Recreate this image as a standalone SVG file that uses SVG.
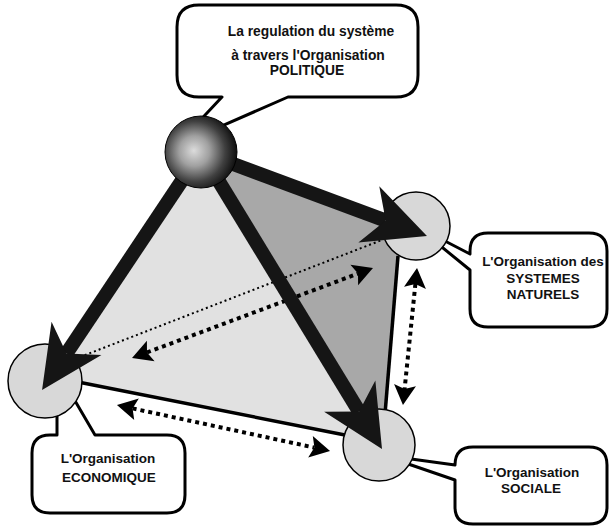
<svg xmlns="http://www.w3.org/2000/svg" width="610" height="526" viewBox="0 0 610 526">
<style>
.txt{font-family:"Liberation Sans",Arial,sans-serif;font-weight:bold;font-size:13.5px;fill:#111;text-anchor:middle}
.callout{fill:#fff;stroke:#000;stroke-width:3;stroke-linejoin:round}
.node{fill:#d8d8d8;stroke:#000;stroke-width:1.5}
.thick{stroke:#151515;stroke-width:14;fill:none;marker-end:url(#big)}
.dash{stroke:#000;stroke-width:4;stroke-dasharray:4 4;fill:none;marker-start:url(#small);marker-end:url(#small)}
.edge{stroke:#000;stroke-width:3.5;fill:none}
</style>
<defs>
<marker id="big" viewBox="-20 -32 66 64" refX="0" refY="0" markerWidth="66" markerHeight="64" markerUnits="userSpaceOnUse" orient="auto">
<path d="M44,0 L-18,-30 L0,0 L-18,30 Z" fill="#151515"/>
</marker>
<marker id="small" viewBox="-6 -12 24 24" refX="0" refY="0" markerWidth="24" markerHeight="24" markerUnits="userSpaceOnUse" orient="auto-start-reverse">
<path d="M16,0 L-4,-11 L0,0 L-4,11 Z" fill="#000"/>
</marker>
<radialGradient id="sph" cx="0.42" cy="0.5" r="0.6" fx="0.4" fy="0.48">
<stop offset="0" stop-color="#dcdcdc"/>
<stop offset="0.35" stop-color="#a0a0a0"/>
<stop offset="0.7" stop-color="#404040"/>
<stop offset="1" stop-color="#080808"/>
</radialGradient>
</defs>

<g id="faces">
<polygon points="201,152 60,370 78,382 350,436 372,430" fill="#e1e1e1"/>
<polygon points="201,152 416,226 398,258 385,412 370,425" fill="#a8a8a8"/>
<line class="edge" x1="78" y1="382" x2="350" y2="436"/>
<line class="edge" x1="398" y1="256" x2="385" y2="414"/>
</g>

<g id="connectors-dotted">
<line x1="80" y1="357" x2="382" y2="240" stroke="#000" stroke-width="2" stroke-dasharray="2 3"/>
<line class="dash" x1="147" y1="352.4" x2="358" y2="273.6"/>
<line class="dash" x1="415.4" y1="283.9" x2="404.6" y2="389.1"/>
<line class="dash" x1="132.6" y1="408.4" x2="314.4" y2="447.6"/>
</g>

<g id="node-economique">
<path class="callout" d="M50,435 H57 L57,370 L95,435 H167 Q185,435 185,453 V495 Q185,513 167,513 H50 Q32,513 32,495 V453 Q32,435 50,435 Z"/>
<circle class="node" cx="45" cy="381" r="37"/>
<text class="txt" x="108" y="463">L'Organisation</text>
<text class="txt" x="109" y="482">ECONOMIQUE</text>
</g>

<g id="node-sociale">
<path class="callout" d="M473,447 H589 Q607,447 607,465 V507 Q607,524 589,524 H473 Q455,524 455,507 V480 L382,455 L455,465 Q455,447 473,447 Z"/>
<circle class="node" cx="379" cy="445" r="36"/>
<text class="txt" x="532" y="477">L'Organisation</text>
<text class="txt" x="531" y="493">SOCIALE</text>
</g>

<g id="node-naturels">
<path class="callout" d="M488,233 H589 Q607,233 607,251 V309 Q607,327 589,327 H488 Q470,327 470,309 V270 L416,226 L470,254 V251 Q470,233 488,233 Z"/>
<circle class="node" cx="416" cy="226" r="34"/>
<text class="txt" x="543" y="266">L'Organisation des</text>
<text class="txt" x="543" y="283">SYSTEMES</text>
<text class="txt" x="543" y="299">NATURELS</text>
</g>

<g id="connectors-thick">
<line class="thick" x1="201" y1="152" x2="385.7" y2="220.6"/>
<line class="thick" x1="201" y1="152" x2="66.5" y2="353.4"/>
<line class="thick" x1="201" y1="152" x2="359.1" y2="411.5"/>
</g>

<g id="node-politique">
<path class="callout" d="M199,5 H396 Q418,5 418,27 V75 Q418,97 396,97 H288 L176,146 L222,97 H199 Q177,97 177,75 V27 Q177,5 199,5 Z"/>
<circle cx="201" cy="152" r="36" fill="url(#sph)" stroke="#000" stroke-width="1"/>
<text class="txt" x="311" y="36" style="font-size:13.8px">La regulation du système</text>
<text class="txt" x="308" y="60" style="font-size:13.8px">à travers l'Organisation</text>
<text class="txt" x="307" y="75" style="font-size:13.8px">POLITIQUE</text>
</g>
</svg>
